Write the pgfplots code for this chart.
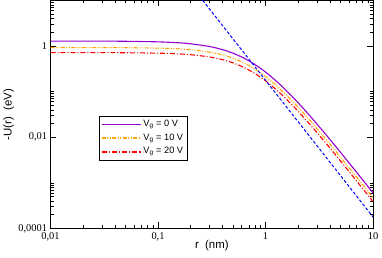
\documentclass[border=0pt]{standalone}
\usepackage{fontspec}
\setmainfont{Liberation Sans}
\newfontfamily\tickfont{Liberation Serif}
\usepackage{pgfplots}
\pgfplotsset{compat=1.18}
\definecolor{cviolet}{RGB}{148,0,211}
\definecolor{corange}{RGB}{255,165,0}
\definecolor{cred}{RGB}{255,0,0}
\definecolor{cblue}{RGB}{0,0,255}
\begin{document}
\begin{tikzpicture}
\begin{axis}[
  scale only axis, width=324bp, height=229bp,
  xmode=log, ymode=log,
  xmin=0.01, xmax=10, ymin=1e-4, ymax=10,
  axis line style={line width=0.8bp},
  tick align=inside, xtick pos=both, ytick pos=both,
  major tick length=6bp, minor tick length=3bp,
  every tick/.style={black, line width=0.6bp},
  xtick={0.01,0.1,1,10}, xticklabels={{0,01},{0,1},{1},{10}},
  minor xtick={0.02,0.03,0.04,0.05,0.06,0.07,0.08,0.09,0.2,0.3,0.4,0.5,0.6,0.7,0.8,0.9,2,3,4,5,6,7,8,9},
  ytick={1e-4,1e-2,1}, yticklabels={{0,0001},{0,01},{1}},
  minor ytick={2e-4,3e-4,4e-4,5e-4,6e-4,7e-4,8e-4,9e-4,1e-3,0.02,0.03,0.04,0.05,0.06,0.07,0.08,0.09,0.1,2,3,4,5,6,7,8,9,10},
  tick label style={font=\tickfont\fontsize{10.5}{12}\selectfont},
  /pgf/number format/assume math mode=true,
  xticklabel style={yshift=-1bp},
  xlabel={r~~(nm)}, ylabel={-U(r)~~(eV)},
  label style={font=\fontsize{11.5}{13}\selectfont},
  xlabel style={at={(axis description cs:0.5,-0.077)}, anchor=center},
  ylabel style={at={(axis description cs:-0.13,0.5)}, anchor=center},
  legend style={at={(axis description cs:0.151,0.4935)}, anchor=north west, draw=black,
    font=\fontsize{9.3}{10}\selectfont, inner xsep=2bp, inner ysep=1bp, row sep=0bp,
    nodes={inner ysep=2bp, text height=7bp, text depth=3bp}},
  legend cell align=left,
  legend image code/.code={\draw[#1] (0bp,0bp) -- (39bp,0bp);},
]
\addlegendimage{draw=cviolet, line width=1.2bp}
\addlegendentry{V\textsubscript{g} = 0 V}
\addlegendimage{draw=corange, line width=1.2bp, dash pattern=on 4bp off 1.5bp on 1bp off 1.5bp on 1bp off 1.5bp}
\addlegendentry{V\textsubscript{g} = 10 V}
\addlegendimage{draw=cred, line width=1.2bp, dash pattern=on 5bp off 2bp on 1.2bp off 2bp}
\addlegendentry{V\textsubscript{g} = 20 V}
\addplot[draw=cviolet, line width=1.1bp, smooth, forget plot] coordinates {
(0.01,1.2892) (0.03,1.2839) (0.05,1.2748) (0.1,1.2384) (0.15,1.1865) (0.2,1.1238)
(0.3,0.9803) (0.4,0.8324) (0.5,0.6951) (0.6,0.5752) (0.7,0.4741) (0.8,0.3910)
(0.9,0.3233) (1.0,0.2686) (1.2,0.1884) (1.5,0.1159) (2,0.05777) (2.5,0.03230)
(3,0.01968) (4,0.008781) (5,0.004622) (6,0.002716) (8,0.001165) (10,0.000602)};
\addplot[draw=corange, line width=1.1bp, smooth, forget plot, dash pattern=on 4bp off 1.5bp on 1bp off 1.5bp on 1bp off 1.5bp] coordinates {
(0.01,0.9296) (0.03,0.9271) (0.05,0.9225) (0.1,0.9024) (0.15,0.8721) (0.2,0.8336)
(0.3,0.7406) (0.4,0.6393) (0.5,0.5409) (0.6,0.4522) (0.7,0.3755) (0.8,0.3113)
(0.9,0.2583) (1.0,0.2150) (1.2,0.1511) (1.5,0.09290) (2,0.04613) (2.5,0.02568)
(3,0.01559) (4,0.006925) (5,0.003630) (6,0.002130) (8,0.000912) (10,0.000470)};
\addplot[draw=cred, line width=1.1bp, smooth, forget plot, dash pattern=on 5bp off 2bp on 1bp off 2bp] coordinates {
(0.01,0.7197) (0.03,0.7179) (0.05,0.7144) (0.1,0.6995) (0.15,0.6768) (0.2,0.6480)
(0.3,0.5782) (0.4,0.5015) (0.5,0.4264) (0.6,0.3581) (0.7,0.2988) (0.8,0.2487)
(0.9,0.2071) (1.0,0.1729) (1.2,0.1221) (1.5,0.07549) (2,0.03767) (2.5,0.02103)
(3,0.01279) (4,0.005690) (5,0.002989) (6,0.001754) (8,0.000752) (10,0.000388)};
\addplot[draw=cblue, line width=1bp, dash pattern=on 3bp off 2bp, forget plot] coordinates {
(0.2,22.25) (10,0.000178)};
\end{axis}
\path ([xshift=-49bp,yshift=-29.5bp]current axis.south west) rectangle ([xshift=9bp,yshift=0.5bp]current axis.north east);
\end{tikzpicture}
\end{document}
